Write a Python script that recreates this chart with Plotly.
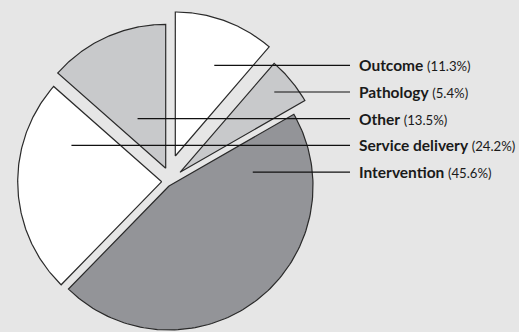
import math
import plotly.graph_objects as go

# Share of studies by focus area
categories = ["Outcome", "Pathology", "Intervention", "Service delivery", "Other"]
shares = [11.3, 5.4, 45.6, 24.2, 13.5]
label_order = ["Outcome", "Pathology", "Other", "Service delivery", "Intervention"]

# Styling / layout
W, H = 519, 332
BG = "#e6e6e6"
CENTER = (166.0, 178.0)
RADIUS = 144.0
SLICE_COLORS = ["#ffffff", "#c8c9cb", "#939498", "#ffffff", "#c8c9cb"]
# displacement of each slice away from the centre (explode), in plot units
EXPLODE = [(9.3, -22.0), (14.0, -5.7), (3.0, 8.0), (-4.3, 3.7), (-0.3, -9.7)]
EDGE = "#2a2a2a"
LABEL_X = 350.0
LABEL_Y0 = 65.3
LABEL_STEP = 26.7
NAME_SIZE = 15.5
VALUE_SIZE = 13.2


def wedge(apex, a0, a1, r, n=120):
    """Polygon for a wedge; angles in degrees, clockwise from 12 o'clock."""
    ax, ay = apex
    xs, ys = [ax], [ay]
    for i in range(n + 1):
        t = math.radians(a0 + (a1 - a0) * i / n)
        xs.append(ax + r * math.sin(t))
        ys.append(ay - r * math.cos(t))
    xs.append(ax)
    ys.append(ay)
    return xs, ys


def chord_mid(xs, ys, y):
    """Midpoint of the horizontal chord of a polygon at height y."""
    hits = []
    for i in range(len(xs) - 1):
        y1, y2 = ys[i], ys[i + 1]
        if (y1 - y) * (y2 - y) <= 0 and y1 != y2:
            f = (y - y1) / (y2 - y1)
            hits.append(xs[i] + f * (xs[i + 1] - xs[i]))
    return (min(hits) + max(hits)) / 2


fig = go.Figure()
total = sum(shares)
start = 0.0
polys = {}
for name, val, col, (dx, dy) in zip(categories, shares, SLICE_COLORS, EXPLODE):
    end = start + 360.0 * val / total
    xs, ys = wedge((CENTER[0] + dx, CENTER[1] + dy), start, end, RADIUS)
    polys[name] = (xs, ys)
    fig.add_trace(go.Scatter(
        x=xs, y=ys, mode="lines", fill="toself", fillcolor=col,
        line=dict(color=EDGE, width=1.2), hoverinfo="skip", showlegend=False,
    ))
    start = end

value_of = dict(zip(categories, shares))
for i, name in enumerate(label_order):
    y = LABEL_Y0 + i * LABEL_STEP
    xs, ys = polys[name]
    x0 = chord_mid(xs, ys, y)
    fig.add_trace(go.Scatter(
        x=[x0, LABEL_X], y=[y, y], mode="lines",
        line=dict(color="#111111", width=1.2), hoverinfo="skip", showlegend=False,
    ))
    text = (
        f"<b><span style='font-size:{NAME_SIZE}px'>{name}</span></b> "
        f"<span style='font-size:{VALUE_SIZE}px'>({value_of[name]:.1f}%)</span>"
    )
    fig.add_annotation(
        x=LABEL_X + 7, y=y, xref="x", yref="y", xanchor="left", yanchor="middle",
        text=text, showarrow=False,
        font=dict(family="Lato", size=14, color="#1a1a1a"),
    )

fig.update_xaxes(range=[0, W], visible=False, fixedrange=True)
fig.update_yaxes(range=[H, 0], visible=False, fixedrange=True)
fig.update_layout(
    width=W, height=H, margin=dict(l=0, r=0, t=0, b=0),
    paper_bgcolor=BG, plot_bgcolor=BG, showlegend=False,
)
fig.write_html("out.html")
